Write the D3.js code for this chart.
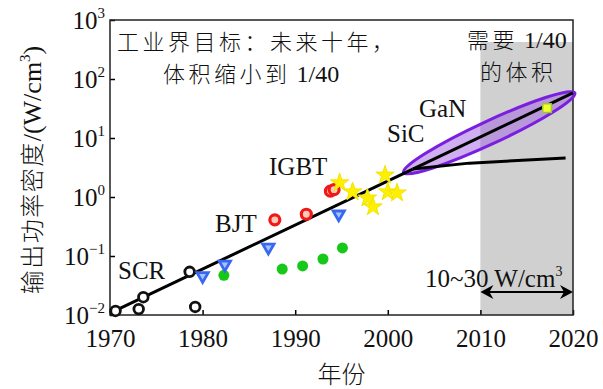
<!DOCTYPE html>
<html>
<head>
<meta charset="utf-8">
<script src="https://cdn.jsdelivr.net/npm/d3@7"></script>
<style>
  body { margin: 0; background: #fff; }
  .serif { font-family: "Liberation Serif", "DejaVu Serif", serif; }
  .cjk { font-family: "Noto Sans CJK SC", sans-serif; font-weight: 300; }
</style>
</head>
<body>
<div id="chart"></div>
<script>
var yearTicks = [1970, 1980, 1990, 2000, 2010, 2020];
var powerTicks = [1e-2, 1e-1, 1e0, 1e1, 1e2, 1e3];
var powerExp = ["\u22122", "\u22121", "0", "1", "2", "3"];

// device groups (year, W/cm3)
var scrYears = [1970.6, 1973.1, 1973.6, 1978.6, 1979.2];
var scrValues = [0.0117, 0.0126, 0.020, 0.054, 0.0137];
var bjtYears = [1980.0, 1982.4, 1987.1, 1994.7];
var bjtValues = [0.046, 0.072, 0.14, 0.51];
var greenYears = [1982.3, 1988.6, 1990.8, 1993.0, 1995.1];
var greenValues = [0.047, 0.060, 0.068, 0.089, 0.137];
var igbtYears = [1987.8, 1991.2, 1993.8, 1994.2];
var igbtValues = [0.41, 0.51, 1.26, 1.33];
var starYears = [1994.8, 1996.2, 1997.8, 1998.4, 1999.7, 2000.0, 2001.0];
var starValues = [1.74, 1.22, 0.96, 0.68, 2.35, 1.22, 1.17];
var ganYears = [2017.2];
var ganValues = [32];

// trend lines
var trendYears = [1970, 2002.7];
var trendValues = [0.0108, 2.97];
var upperYears = [2002.7, 2020];
var upperValues = [2.97, 58];
var lowerYears = [2002.7, 2008.8, 2019.2];
var lowerValues = [2.97, 3.75, 4.6];
var ellipseYears = [2001.7, 2020.2];
var ellipseValues = [2.6, 58];

var targetStart = 2010, targetEnd = 2020;

var margin = {top: 20, right: 30, bottom: 74, left: 110},
    width = 603, height = 389;

var svg = d3.select("#chart").append("svg")
    .attr("width", width).attr("height", height);

var x = d3.scaleLinear().domain([1970, 2020]).range([margin.left, width - margin.right]);
var y = d3.scaleLog().domain([1e-2, 1e3]).range([height - margin.bottom, margin.top]);

function zip(a, b) { return a.map(function(d, i) { return [d, b[i]]; }); }

// shaded target region
svg.append("rect")
    .attr("x", x(targetStart))
    .attr("y", 42)
    .attr("width", x(targetEnd) - x(targetStart))
    .attr("height", y(1e-2) - 42)
    .attr("fill", "#d0d0d0");

// axes
var gx = svg.append("g")
    .attr("transform", "translate(0," + y(1e-2) + ")")
    .call(d3.axisBottom(x).tickValues(yearTicks).tickFormat(d3.format("d")).tickSize(-5).tickPadding(14));
gx.select(".domain").remove();
gx.selectAll("line").attr("stroke-width", 1.5);
gx.selectAll("text").attr("class", "serif").attr("font-size", 25).attr("fill", "#111");

var gy = svg.append("g")
    .attr("transform", "translate(" + x(1970) + ",0)")
    .call(d3.axisLeft(y).tickValues(powerTicks).tickFormat("").tickSize(-5));
gy.select(".domain").remove();
gy.selectAll("line").attr("stroke-width", 1.5);

var ylab = svg.append("g").selectAll("text").data(powerTicks).enter()
  .append("text")
    .attr("class", "serif")
    .attr("x", x(1970) - 5)
    .attr("y", function(d) { return y(d) + 9; })
    .attr("text-anchor", "end")
    .attr("font-size", 25)
    .attr("fill", "#111");
ylab.append("tspan").text("10");
ylab.append("tspan").attr("dy", -11).attr("font-size", 15).text(function(d, i) { return powerExp[i]; });

// frame
svg.append("rect")
    .attr("x", x(1970)).attr("y", y(1e3))
    .attr("width", x(2020) - x(1970)).attr("height", y(1e-2) - y(1e3))
    .attr("fill", "none").attr("stroke", "#222").attr("stroke-width", 1.5);

// GaN ellipse
var e0 = [x(ellipseYears[0]), y(ellipseValues[0])],
    e1 = [x(ellipseYears[1]), y(ellipseValues[1])];
var ang = Math.atan2(e1[1] - e0[1], e1[0] - e0[0]) * 180 / Math.PI;
var rx = Math.hypot(e1[0] - e0[0], e1[1] - e0[1]) / 2;
svg.append("ellipse")
    .attr("transform", "translate(" + (e0[0] + e1[0]) / 2 + "," + (e0[1] + e1[1]) / 2 + ") rotate(" + ang + ")")
    .attr("rx", rx).attr("ry", 11.5)
    .attr("fill", "#a060e0").attr("fill-opacity", 0.5)
    .attr("stroke", "#7a1fe0").attr("stroke-width", 3);

var line = d3.line().x(function(d) { return x(d[0]); }).y(function(d) { return y(d[1]); });

[[trendYears, trendValues], [upperYears, upperValues], [lowerYears, lowerValues]].forEach(function(s) {
  svg.append("path")
      .datum(zip(s[0], s[1]))
      .attr("d", line)
      .attr("fill", "none").attr("stroke", "#000").attr("stroke-width", 3)
      .attr("stroke-linejoin", "round");
});

// markers
svg.selectAll(".scr").data(zip(scrYears, scrValues)).enter()
  .append("circle")
    .attr("cx", function(d) { return x(d[0]); })
    .attr("cy", function(d) { return y(d[1]); })
    .attr("r", 4.8)
    .attr("fill", "#fff").attr("stroke", "#111").attr("stroke-width", 2.8);

svg.selectAll(".grn").data(zip(greenYears, greenValues)).enter()
  .append("circle")
    .attr("cx", function(d) { return x(d[0]); })
    .attr("cy", function(d) { return y(d[1]); })
    .attr("r", 5.5)
    .attr("fill", "#18c818");

svg.selectAll(".bjt").data(zip(bjtYears, bjtValues)).enter()
  .append("path")
    .attr("d", d3.symbol().type(d3.symbolTriangle).size(55))
    .attr("transform", function(d) { return "translate(" + x(d[0]) + "," + y(d[1]) + ") rotate(180)"; })
    .attr("fill", "#a8c0ff").attr("stroke", "#3868f0").attr("stroke-width", 2.8);

svg.selectAll(".igbt").data(zip(igbtYears, igbtValues)).enter()
  .append("circle")
    .attr("cx", function(d) { return x(d[0]); })
    .attr("cy", function(d) { return y(d[1]); })
    .attr("r", 5)
    .attr("fill", "#ffc8b8").attr("stroke", "#f01818").attr("stroke-width", 3.2);

svg.selectAll(".star").data(zip(starYears, starValues)).enter()
  .append("path")
    .attr("d", d3.symbol().type(d3.symbolStar).size(105))
    .attr("transform", function(d) { return "translate(" + x(d[0]) + "," + y(d[1]) + ")"; })
    .attr("fill", "#fff000").attr("stroke", "#f2e400").attr("stroke-width", 1);

svg.selectAll(".gan").data(zip(ganYears, ganValues)).enter()
  .append("path")
    .attr("d", d3.symbol().type(d3.symbolSquare).size(75))
    .attr("transform", function(d) { return "translate(" + x(d[0]) + "," + y(d[1]) + ")"; })
    .attr("fill", "#f4ff30").attr("stroke", "#9ac832").attr("stroke-width", 1.5);

// double arrow 10~30 W/cm3
var ay = 292, ax0 = x(targetStart), ax1 = x(targetEnd);
svg.append("line").attr("x1", ax0 + 6).attr("x2", ax1 - 6).attr("y1", ay).attr("y2", ay)
    .attr("stroke", "#000").attr("stroke-width", 2);
svg.append("path")
    .attr("d", "M" + ax0 + "," + ay + "l13,-7l-4,7l4,7z" + "M" + ax1 + "," + ay + "l-13,-7l4,7l-4,7z")
    .attr("fill", "#000");

// labels
function label(t, px, py, size) {
  return svg.append("text").attr("class", "serif").attr("x", px).attr("y", py)
      .attr("font-size", size || 25).attr("fill", "#111").text(t);
}
label("SCR", 118, 279);
label("BJT", 215, 232);
label("IGBT", 269, 175);
label("SiC", 387, 142);
label("GaN", 419, 117);
var wl = label("10~30 W/cm", 425, 287);
wl.append("tspan").attr("dy", -11).attr("font-size", 14).text("3");

function cjk(parts, px, py) {
  var t = svg.append("text").attr("x", px).attr("y", py).attr("fill", "#111");
  parts.forEach(function(p) {
    t.append("tspan").attr("class", p[1] ? "cjk" : "serif")
      .attr("font-size", p[1] ? 22 : 24)
      .attr("letter-spacing", p[1] ? 3.5 : 0)
      .text(p[0]);
  });
  return t;
}
cjk([["工业界目标：未来十年，", true]], 117, 50);
cjk([["体积缩小到", true], [" 1/40", false]], 163, 82);
cjk([["需要", true], [" 1/40", false]], 467, 48);
cjk([["的体积", true]], 480, 80);

// axis titles
svg.append("text").attr("class", "cjk").attr("x", x(1995)).attr("y", 383)
    .attr("text-anchor", "middle").attr("font-size", 24).attr("fill", "#111").text("年份");

var yt = svg.append("text")
    .attr("transform", "translate(41,170) rotate(-90)")
    .attr("text-anchor", "middle").attr("fill", "#111");
yt.append("tspan").attr("class", "cjk").attr("font-size", 24).attr("letter-spacing", 1.5).text("输出功率密度");
yt.append("tspan").attr("class", "serif").attr("font-size", 26).text("/(W/cm");
yt.append("tspan").attr("class", "serif").attr("font-size", 15).attr("dy", -11).text("3");
yt.append("tspan").attr("class", "serif").attr("font-size", 26).attr("dy", 11).text(")");
</script>
</body>
</html>
